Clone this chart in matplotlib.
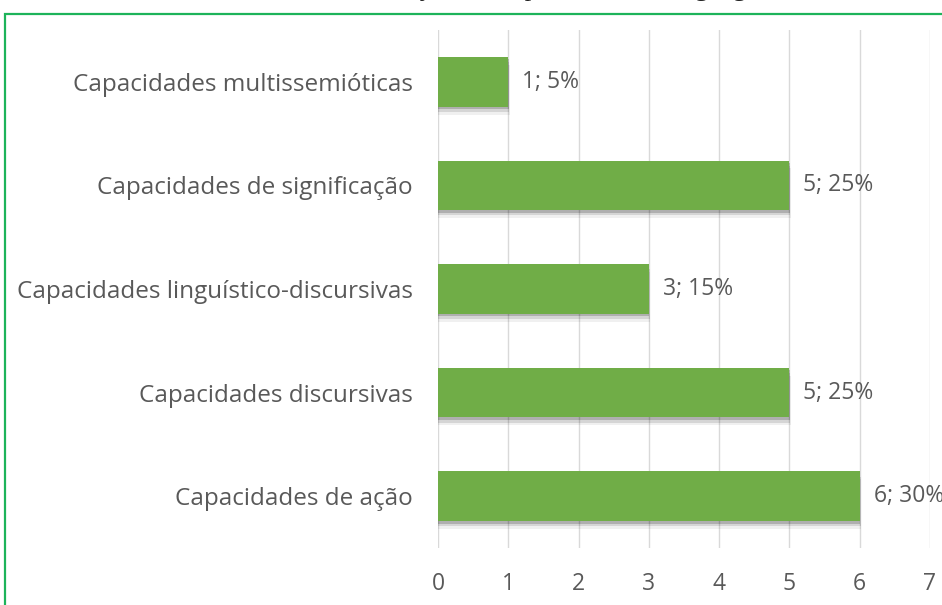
import matplotlib.pyplot as plt
from matplotlib.patches import Rectangle

# ----- data -----
categories = [
    "Capacidades de ação",
    "Capacidades discursivas",
    "Capacidades linguístico-discursivas",
    "Capacidades de significação",
    "Capacidades multissemióticas",
]
counts = [6, 5, 3, 5, 1]
percents = [30, 25, 15, 25, 5]
x_ticks = [0, 1, 2, 3, 4, 5, 6, 7]

BAR_GREEN = "#70AD47"
TEXT_GRAY = "#595959"
GRID_GRAY = "#D9D9D9"

fig = plt.figure(figsize=(9.42, 6.05), dpi=100)

# frame around the chart area
fig.patches.append(Rectangle((4.5 / 942, -0.05), 1.0, 1 - 13.5 / 605 + 0.05,
                             transform=fig.transFigure, fill=False,
                             edgecolor="#1DB35A", linewidth=1.6))

# caption sitting above the frame (only its lower edge shows)
fig.text(322 / 942, 1.0 + 4 / 605, "Distribuição das capacidades de linguagem",
         family="Liberation Serif", fontsize=19, ha="left", va="baseline",
         color="#222222")

ax = fig.add_axes([438 / 942, 1 - 548 / 605, (930 - 438) / 942, (548 - 30) / 605])

ypos = list(range(len(categories)))

# soft shadow under each bar
for y, v in zip(ypos, counts):
    for k, a in enumerate([0.18, 0.11, 0.06]):
        off = 0.012 + 0.013 * k
        ax.barh(y - off * 2.0, v + off * 0.6, height=0.48, left=0,
                color="black", alpha=a, zorder=2, linewidth=0)

ax.barh(ypos, counts, height=0.48, color=BAR_GREEN, zorder=3, linewidth=0)

for y, v, p in zip(ypos, counts, percents):
    ax.text(v + 0.2, y, f"{v}; {p}%", va="center", ha="left",
            fontsize=16.5, color=TEXT_GRAY, family="Open Sans", zorder=4,
            clip_on=False)

ax.set_xlim(0, 7)
ax.set_ylim(-0.5, 4.5)
ax.set_xticks(x_ticks)
ax.set_yticks(ypos)
ax.set_yticklabels(categories)
ax.grid(axis="x", color=GRID_GRAY, linewidth=1, zorder=0)
ax.set_axisbelow(True)
for s in ax.spines.values():
    s.set_visible(False)
ax.tick_params(axis="both", length=0, colors=TEXT_GRAY, labelsize=17.5)
ax.tick_params(axis="x", pad=17)
ax.tick_params(axis="y", pad=18)
for lab in ax.get_xticklabels():
    lab.set_family("Open Sans")
    lab.set_color(TEXT_GRAY)
    lab.set_fontsize(16.5)
for lab in ax.get_yticklabels():
    lab.set_family("Open Sans")
    lab.set_color(TEXT_GRAY)

fig.savefig("out.png", dpi=100)
